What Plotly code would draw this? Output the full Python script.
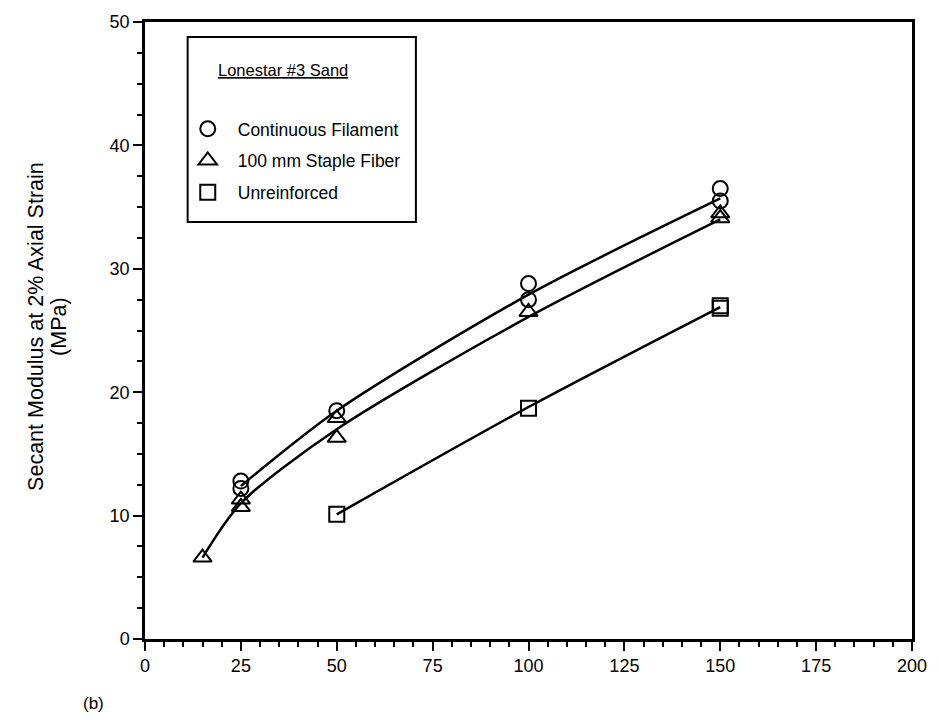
import plotly.graph_objects as go

# Secant modulus at 2% axial strain vs confining pressure (kPa), Lonestar #3 sand
cf_x = [25, 25, 50, 100, 100, 150, 150]
cf_y = [12.8, 12.2, 18.5, 28.8, 27.5, 36.5, 35.5]

sf_x = [15, 25, 25, 50, 50, 100, 150, 150]
sf_y = [6.6, 11.3, 10.7, 17.9, 16.3, 26.5, 34.5, 34.1]

ur_x = [50, 100, 150, 150]
ur_y = [10.1, 18.7, 27.0, 26.8]

# fitted trend curves
cf_fit_x = [25, 50, 100, 150]
cf_fit_y = [12.4, 18.5, 27.9, 35.7]
sf_fit_x = [15, 25, 50, 100, 150]
sf_fit_y = [6.6, 11.0, 17.0, 26.1, 34.0]
ur_fit_x = [50, 100, 150]
ur_fit_y = [10.1, 18.8, 26.9]

series = [
    ("Continuous Filament", cf_x, cf_y, cf_fit_x, cf_fit_y, "circle-open", 15),
    ("100 mm Staple Fiber", sf_x, sf_y, sf_fit_x, sf_fit_y, "triangle-up-open", 16),
    ("Unreinforced", ur_x, ur_y, ur_fit_x, ur_fit_y, "square-open", 15),
]

FONT = "Liberation Sans, Arial, Helvetica, sans-serif"

fig = go.Figure()
for i, (name, x, y, fx, fy, sym, size) in enumerate(series):
    fig.add_trace(go.Scatter(
        x=fx, y=fy, mode="lines", showlegend=False, hoverinfo="skip",
        line=dict(color="black", width=2.5, shape="spline", smoothing=0.8),
    ))
    fig.add_trace(go.Scatter(
        x=x, y=y, mode="markers", name=name, legendgroup=f"g{i}",
        marker=dict(symbol=sym, size=size, color="black",
                    line=dict(color="black", width=2)),
    ))

fig.update_layout(
    width=939, height=722,
    margin=dict(l=145, r=21, t=22, b=83),
    paper_bgcolor="white", plot_bgcolor="white",
    font=dict(family=FONT, color="black", size=16),
    legend=dict(
        x=0.0427, y=0.856, xanchor="left", yanchor="top",
        bgcolor="rgba(0,0,0,0)", borderwidth=0,
        font=dict(family=FONT, size=17.5, color="black"),
        tracegroupgap=6, itemsizing="trace", itemwidth=50,
    ),
)

# legend frame and heading
fig.add_shape(type="rect", xref="paper", yref="paper",
              x0=0.0556, x1=0.3532, y0=0.6759, y1=0.9757,
              line=dict(color="black", width=2), fillcolor="white", layer="below")
fig.add_annotation(
    text="<u>Lonestar #3 Sand</u>", xref="paper", yref="paper",
    x=0.0931, y=0.9222, xanchor="left", yanchor="middle", showarrow=False,
    font=dict(family=FONT, size=16.5, color="black"),
)

fig.update_xaxes(
    range=[0, 200], tickmode="linear", tick0=0, dtick=25,
    showgrid=False, zeroline=False,
    showline=True, linecolor="black", linewidth=2.5, mirror=True,
    ticks="outside", ticklen=9, tickwidth=2, tickcolor="black",
    minor=dict(dtick=5, ticks="outside", ticklen=5, tickwidth=2, tickcolor="black"),
    tickfont=dict(family=FONT, size=18, color="black"),
)
fig.update_yaxes(
    range=[0, 50], tickmode="linear", tick0=0, dtick=10,
    showgrid=False, zeroline=False,
    showline=True, linecolor="black", linewidth=2.5, mirror=True,
    ticks="outside", ticklen=9, tickwidth=2, tickcolor="black",
    minor=dict(dtick=2.5, ticks="outside", ticklen=5, tickwidth=2, tickcolor="black"),
    tickfont=dict(family=FONT, size=18, color="black"),
)

# two-line y-axis title
fig.add_annotation(
    text="Secant Modulus at 2% Axial Strain",
    xref="paper", yref="paper", x=-0.1425, y=0.507,
    xanchor="center", yanchor="middle", textangle=-90, showarrow=False,
    font=dict(family=FONT, size=21.5, color="black"),
)
fig.add_annotation(
    text="(MPa)",
    xref="paper", yref="paper", x=-0.1125, y=0.507,
    xanchor="center", yanchor="middle", textangle=-90, showarrow=False,
    font=dict(family=FONT, size=21.5, color="black"),
)
fig.add_annotation(
    text="(b)", xref="paper", yref="paper", x=-0.067, y=-0.105,
    xanchor="center", yanchor="middle", showarrow=False,
    font=dict(family=FONT, size=17, color="black"),
)

fig.write_html("out.html")
